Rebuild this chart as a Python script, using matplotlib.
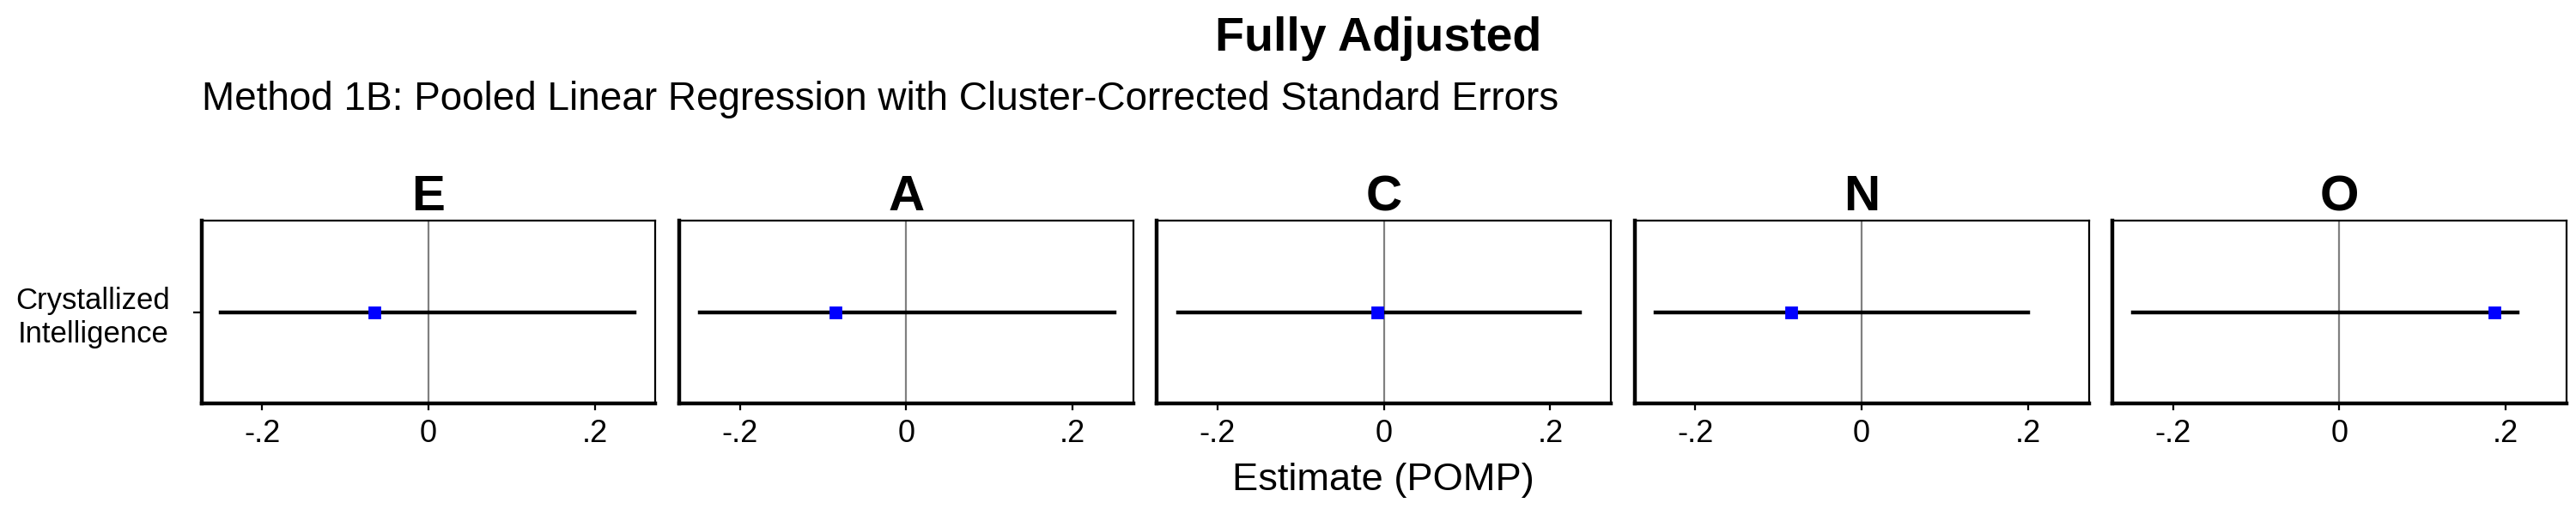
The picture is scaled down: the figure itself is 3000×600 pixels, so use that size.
import matplotlib.pyplot as plt

traits = ["E", "A", "C", "N", "O"]
estimates = [-0.065, -0.085, -0.008, -0.085, 0.186]
ci_low = [-0.250, -0.248, -0.248, -0.248, -0.248]
ci_high = [0.248, 0.250, 0.236, 0.200, 0.214]
outcome = "Crystallized\nIntelligence"
xticks = [-0.2, 0, 0.2]
xticklabels = ["-.2", "0", ".2"]

plt.rcParams['font.family'] = ['Liberation Sans', 'DejaVu Sans']
fig = plt.figure(figsize=(15, 3), dpi=200)

left0 = 122 / 1560
width = 275 / 1560
step = 289.3 / 1560
bottom = 1 - 243 / 310
height = 110 / 310

for i, t in enumerate(traits):
    ax = fig.add_axes([left0 + i * step, bottom, width, height])
    ax.axvline(0, color='grey', lw=0.8, zorder=1)
    ax.plot([ci_low[i], ci_high[i]], [0, 0], color='black', lw=1.6, zorder=2)
    ax.plot([estimates[i]], [0], marker='s', color='blue', ms=4, ls='none', zorder=3)
    ax.set_xlim(-0.273, 0.273)
    ax.set_ylim(-1, 1)
    ax.set_xticks(xticks)
    ax.set_xticklabels(xticklabels, fontsize=13)
    ax.set_yticks([0])
    if i == 0:
        ax.set_yticklabels([outcome], fontsize=12.5, ha='center')
        ax.tick_params(axis='y', pad=42)
    else:
        ax.set_yticklabels([])
        ax.tick_params(axis='y', length=0)
    for s in ax.spines.values():
        s.set_linewidth(0.8)
    ax.spines['left'].set_linewidth(1.6)
    ax.spines['bottom'].set_linewidth(1.6)
    ax.tick_params(axis='x', length=3, width=0.8)
    ax.set_title(t, fontsize=21, fontweight='bold', pad=4)

fig.text(0.535, 0.925, "Fully Adjusted", fontsize=20, fontweight='bold', ha='center', va='center')
fig.text(left0, 0.806, "Method 1B: Pooled Linear Regression with Cluster-Corrected Standard Errors",
         fontsize=16.5, ha='left', va='center')
fig.text(0.537, 0.068, "Estimate (POMP)", fontsize=16.3, ha='center', va='center')

fig.savefig("out.png", dpi=200)
